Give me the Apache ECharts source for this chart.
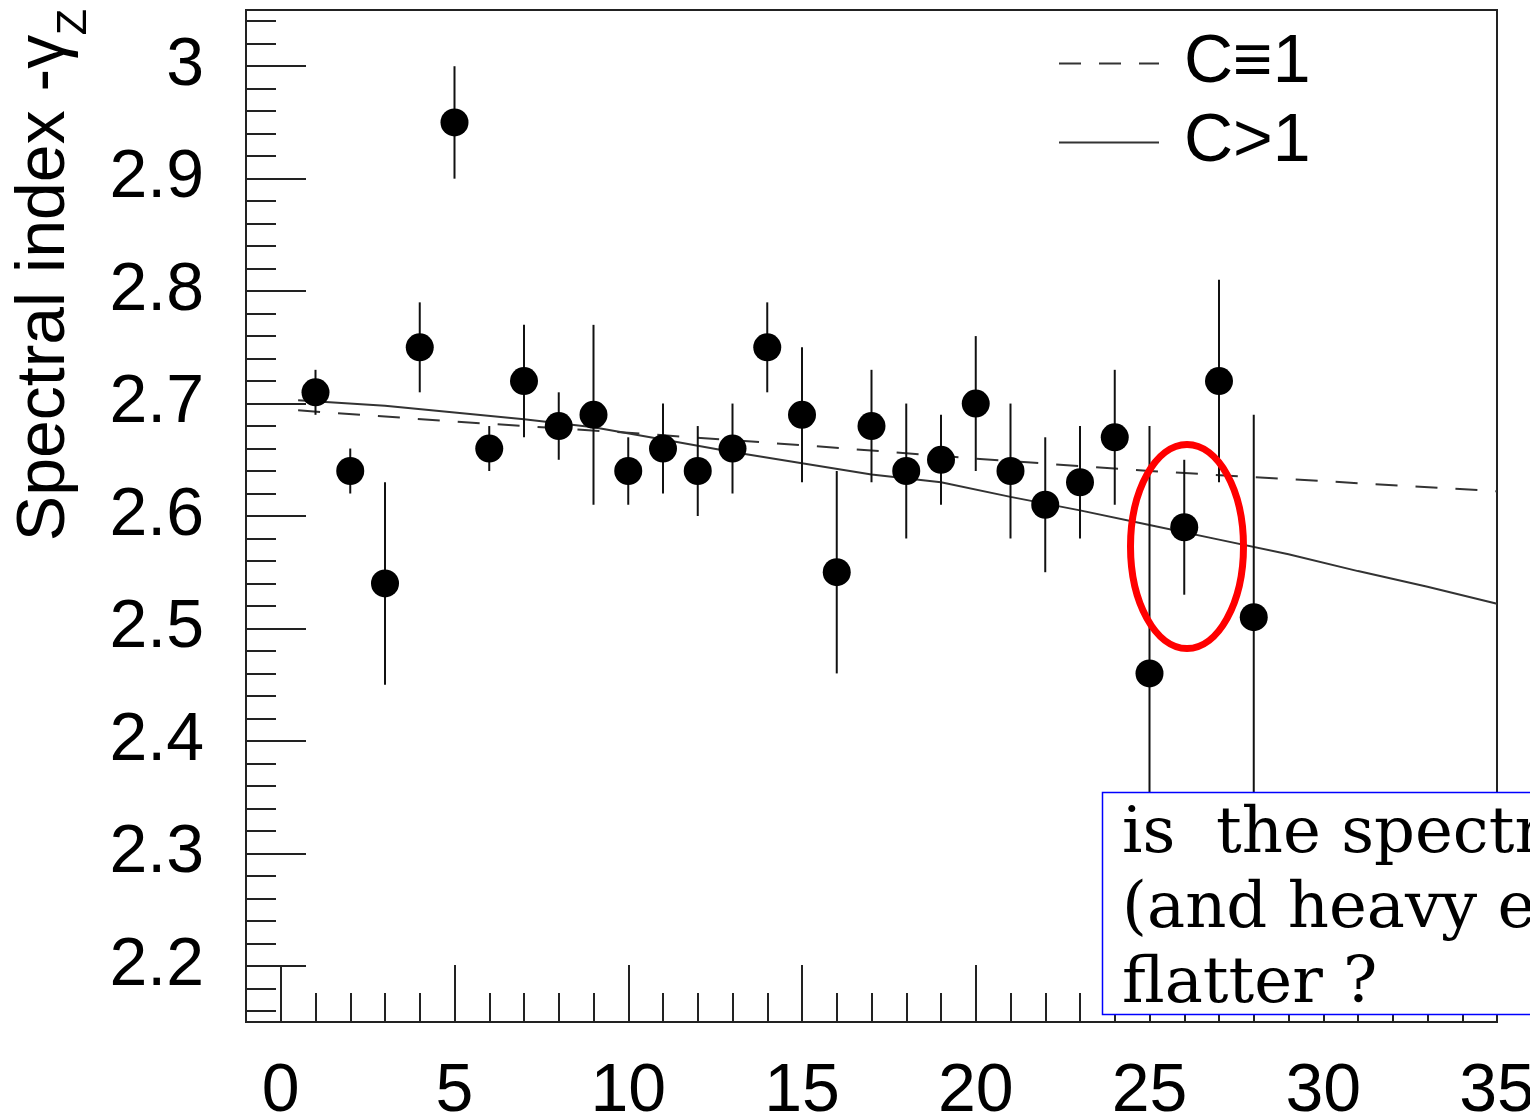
<!DOCTYPE html>
<html><head><meta charset="utf-8">
<script src="https://cdn.jsdelivr.net/npm/echarts@6/dist/echarts.min.js"></script>
<style>html,body{margin:0;padding:0;background:#fff;overflow:hidden}#c{width:1530px;height:1119px}</style>
</head><body><div id="c"></div>
<script>
// ---- data ----
const xPoints   = [1,2,3,4,5,6,7,8,9,10,11,12,13,14,15,16,17,18,19,20,21,22,23,24,25,26,27,28];
const yValues   = [2.71,2.64,2.54,2.75,2.95,2.66,2.72,2.68,2.69,2.64,2.66,2.64,2.66,2.75,2.69,2.55,2.68,2.64,2.65,2.70,2.64,2.61,2.63,2.67,2.46,2.59,2.72,2.51];
const yErrLow   = [2.69,2.62,2.45,2.71,2.90,2.64,2.67,2.65,2.61,2.61,2.62,2.60,2.62,2.71,2.63,2.46,2.63,2.58,2.61,2.64,2.58,2.55,2.58,2.61,2.24,2.53,2.63,2.33];
const yErrHigh  = [2.73,2.66,2.63,2.79,3.00,2.68,2.77,2.71,2.77,2.67,2.70,2.68,2.70,2.79,2.75,2.64,2.73,2.70,2.69,2.76,2.70,2.67,2.68,2.73,2.68,2.65,2.81,2.69];

const curveC1X   = [0.5,5,10,15,20,25,30,35];
const curveC1Y   = [2.694,2.684,2.674,2.663,2.651,2.640,2.631,2.622];
const curveCgt1X = [0.5,3,5,7,9,11,13,15,17,19,21,23,25,27,29,31,33,35];
const curveCgt1Y = [2.703,2.698,2.692,2.686,2.679,2.668,2.657,2.647,2.637,2.630,2.617,2.605,2.592,2.579,2.566,2.551,2.537,2.522];

const xMajorTicks = [0,5,10,15,20,25,30,35];
const xMinorTicks = [0,1,2,3,4,5,6,7,8,9,10,11,12,13,14,15,16,17,18,19,20,21,22,23,24,25,26,27,28,29,30,31,32,33,34,35];
const yMajorTicks = [2.2,2.3,2.4,2.5,2.6,2.7,2.8,2.9,3.0];
const yMinorTicks = [2.16,2.18,2.2,2.22,2.24,2.26,2.28,2.3,2.32,2.34,2.36,2.38,2.4,2.42,2.44,2.46,2.48,2.5,2.52,2.54,2.56,2.58,2.6,2.62,2.64,2.66,2.68,2.7,2.72,2.74,2.76,2.78,2.8,2.82,2.84,2.86,2.88,2.9,2.92,2.94,2.96,2.98,3.0,3.02,3.04];

const seriesNames = ['C\u22611', 'C>1'];
const yTitle = 'Spectral index -\u03b3';
const yTitleSub = 'Z';
const noteLines = ['is  the spectr', '(and heavy e', 'flatter ?'];

// ---- build ----
const pts = xPoints.map((x, i) => [x, yValues[i]]);
const errs = xPoints.map((x, i) => [x, yErrLow[i], yErrHigh[i]]);
const c1 = curveC1X.map((x, i) => [x, curveC1Y[i]]);
const cg = curveCgt1X.map((x, i) => [x, curveCgt1Y[i]]);

const FONT = '"Liberation Sans", Arial, Helvetica, sans-serif';
const tickColor = '#222';

const chart = echarts.init(document.getElementById('c'), null, {renderer: 'canvas'});
chart.setOption({
  animation: false,
  backgroundColor: '#fff',
  grid: {left: 246, top: 10, right: 33, bottom: 97, show: true, borderColor: '#222', borderWidth: 2, outerBoundsMode: 'none', containLabel: false},
  legend: {
    data: seriesNames, orient: 'vertical', left: 1058, top: 24, padding: 0,
    itemWidth: 100, itemHeight: 14, itemGap: 0, selectedMode: false,
    itemStyle: {color: 'rgba(0,0,0,0)', borderWidth: 0, opacity: 0},
    textStyle: {fontSize: 68, fontFamily: FONT, color: '#000', lineHeight: 79, padding: [0, 0, 0, 20]}
  },
  xAxis: [
    {type: 'value', min: -1, max: 35, position: 'bottom',
     axisLine: {show: false, onZero: false}, splitLine: {show: false},
     axisTick: {inside: true, length: 57, customValues: xMajorTicks, lineStyle: {color: tickColor, width: 2}},
     axisLabel: {customValues: xMajorTicks, fontSize: 68, fontFamily: FONT, color: '#000', margin: 36}},
    {type: 'value', min: -1, max: 35, position: 'bottom',
     axisLine: {show: false, onZero: false}, splitLine: {show: false},
     axisTick: {inside: true, length: 29, customValues: xMinorTicks, lineStyle: {color: tickColor, width: 2}},
     axisLabel: {show: false}}
  ],
  yAxis: [
    {type: 'value', min: 2.15, max: 3.05, position: 'left',
     axisLine: {show: false, onZero: false}, splitLine: {show: false},
     axisTick: {inside: true, length: 60, customValues: yMajorTicks, lineStyle: {color: tickColor, width: 2}},
     axisLabel: {customValues: yMajorTicks, fontSize: 68, fontFamily: FONT, color: '#000', margin: 42}},
    {type: 'value', min: 2.15, max: 3.05, position: 'left',
     axisLine: {show: false, onZero: false}, splitLine: {show: false},
     axisTick: {inside: true, length: 30, customValues: yMinorTicks, lineStyle: {color: tickColor, width: 2}},
     axisLabel: {show: false}}
  ],
  series: [
    {name: seriesNames[0], type: 'line', data: c1, symbol: 'none', color: '#333',
     lineStyle: {color: '#333', width: 2, type: [22, 18]}, z: 2},
    {name: seriesNames[1], type: 'line', data: cg, symbol: 'none', color: '#333',
     lineStyle: {color: '#333', width: 2, type: 'solid'}, z: 2},
    {type: 'custom', data: errs, z: 3,
     renderItem: function (params, api) {
       const x = api.value(0);
       const lo = api.coord([x, api.value(1)]);
       const hi = api.coord([x, api.value(2)]);
       return {type: 'line', shape: {x1: lo[0], y1: lo[1], x2: hi[0], y2: hi[1]},
               style: {stroke: '#111', lineWidth: 2}};
     }},
    {type: 'scatter', data: pts, symbol: 'circle', symbolSize: 28, itemStyle: {color: '#000', opacity: 1}, z: 4}
  ],
  graphic: [
    {type: 'text', x: 45, y: 288, rotation: Math.PI / 2, z: 10,
     style: {text: yTitle, font: '68px ' + FONT, fill: '#000', textAlign: 'center', textVerticalAlign: 'middle'}},
    {type: 'text', x: 74, y: 22, rotation: Math.PI / 2, z: 10,
     style: {text: yTitleSub, font: '43px ' + FONT, fill: '#000', textAlign: 'center', textVerticalAlign: 'middle'}},
    {type: 'ellipse', shape: {cx: 1187, cy: 546.5, rx: 56.5, ry: 102}, z: 20,
     style: {stroke: '#ff0000', lineWidth: 7, fill: null}},
    {type: 'rect', shape: {x: 1102.5, y: 792.5, width: 460, height: 222}, z: 30,
     style: {stroke: '#0000ff', lineWidth: 1.5, fill: '#fff'}},
    {type: 'text', x: 1122, y: 798, z: 31,
     style: {text: noteLines.join('\n'), font: '64px "DejaVu Serif", serif', fill: '#000', lineHeight: 75, textAlign: 'left', textVerticalAlign: 'top'}}
  ]
});
</script></body></html>
